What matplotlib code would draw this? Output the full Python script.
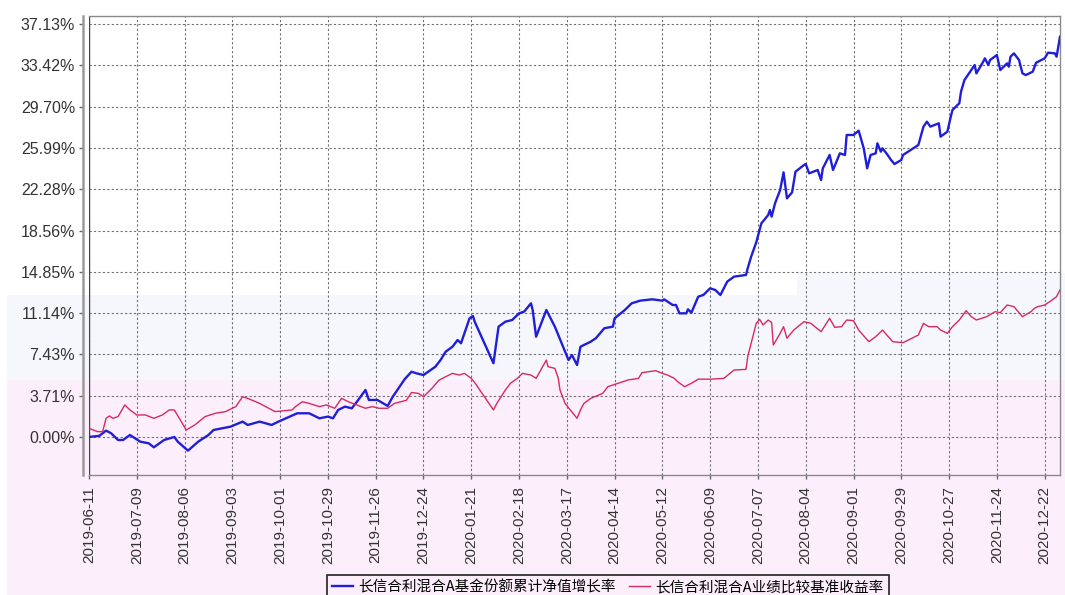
import matplotlib
matplotlib.use("Agg")
import matplotlib.pyplot as plt
import matplotlib.dates as mdates
from matplotlib.patches import Rectangle
import pandas as pd

# ---------------------------------------------------------------------------
# Data (cumulative growth, %)
# ---------------------------------------------------------------------------

fund_dates = [
    "2019-06-11", "2019-06-17", "2019-06-21", "2019-06-24", "2019-06-28", "2019-07-01",
    "2019-07-05", "2019-07-11", "2019-07-16", "2019-07-19", "2019-07-25", "2019-07-31",
    "2019-08-02", "2019-08-08", "2019-08-14", "2019-08-20", "2019-08-23", "2019-08-28",
    "2019-09-02", "2019-09-09", "2019-09-12", "2019-09-19", "2019-09-26", "2019-09-30",
    "2019-10-11", "2019-10-18", "2019-10-24", "2019-10-29", "2019-11-01", "2019-11-04",
    "2019-11-08", "2019-11-12", "2019-11-15", "2019-11-20", "2019-11-22", "2019-11-27",
    "2019-12-03", "2019-12-06", "2019-12-13", "2019-12-17", "2019-12-20", "2019-12-24",
    "2019-12-31", "2020-01-03", "2020-01-06", "2020-01-10", "2020-01-13", "2020-01-15",
    "2020-01-17", "2020-01-20", "2020-01-22", "2020-01-23", "2020-02-03", "2020-02-06",
    "2020-02-10", "2020-02-14", "2020-02-18", "2020-02-21", "2020-02-25", "2020-02-26",
    "2020-02-28", "2020-03-05", "2020-03-10", "2020-03-18", "2020-03-20", "2020-03-23",
    "2020-03-25", "2020-03-31", "2020-04-03", "2020-04-08", "2020-04-13", "2020-04-14",
    "2020-04-20", "2020-04-24", "2020-04-29", "2020-05-06", "2020-05-12", "2020-05-13",
    "2020-05-18", "2020-05-20", "2020-05-22", "2020-05-26", "2020-05-27", "2020-05-29",
    "2020-06-02", "2020-06-05", "2020-06-09", "2020-06-12", "2020-06-15", "2020-06-19",
    "2020-06-23", "2020-06-30", "2020-07-01", "2020-07-03", "2020-07-06", "2020-07-09",
    "2020-07-13", "2020-07-14", "2020-07-15", "2020-07-17", "2020-07-20", "2020-07-22",
    "2020-07-24", "2020-07-27", "2020-07-29", "2020-08-03", "2020-08-04", "2020-08-06",
    "2020-08-11", "2020-08-13", "2020-08-14", "2020-08-18", "2020-08-20", "2020-08-24",
    "2020-08-27", "2020-08-28", "2020-09-01", "2020-09-04", "2020-09-07", "2020-09-09",
    "2020-09-11", "2020-09-14", "2020-09-15", "2020-09-17", "2020-09-18", "2020-09-21",
    "2020-09-23", "2020-09-25", "2020-09-29", "2020-09-30", "2020-10-09", "2020-10-12",
    "2020-10-14", "2020-10-16", "2020-10-21", "2020-10-22", "2020-10-26", "2020-10-28",
    "2020-10-29", "2020-11-02", "2020-11-03", "2020-11-05", "2020-11-09", "2020-11-11",
    "2020-11-12", "2020-11-16", "2020-11-17", "2020-11-19", "2020-11-20", "2020-11-24",
    "2020-11-26", "2020-11-30", "2020-12-01", "2020-12-02", "2020-12-04", "2020-12-07",
    "2020-12-09", "2020-12-11", "2020-12-15", "2020-12-17", "2020-12-22", "2020-12-24",
    "2020-12-28", "2020-12-29", "2020-12-31",
]
fund_vals = [
    0.00, 0.10, 0.57, 0.33, -0.27, -0.27,
    0.18, -0.42, -0.57, -0.93, -0.27, 0.00,
    -0.42, -1.23, -0.42, 0.18, 0.63, 0.78,
    0.93, 1.38, 1.08, 1.38, 1.08, 1.38,
    2.13, 2.13, 1.68, 1.83, 1.68, 2.43,
    2.73, 2.58, 3.17, 4.23, 3.33, 3.33,
    2.79, 3.62, 5.20, 5.87, 5.72, 5.57,
    6.32, 6.92, 7.67, 8.12, 8.72, 8.43,
    9.33, 10.67, 10.88, 10.37, 6.63, 9.92,
    10.37, 10.52, 11.12, 11.27, 12.02, 11.42,
    9.02, 11.42, 9.92, 6.92, 7.37, 6.47,
    8.12, 8.57, 8.88, 9.78, 9.92, 10.67,
    11.42, 12.02, 12.26, 12.38, 12.26, 12.38,
    11.87, 11.87, 11.12, 11.12, 11.48, 11.18,
    12.62, 12.77, 13.37, 13.22, 12.77, 13.97,
    14.42, 14.57, 15.17, 16.21, 17.50, 19.21,
    19.96, 20.41, 19.81, 21.01, 22.21, 23.80,
    21.46, 22.00, 23.86, 24.46, 24.55, 23.71,
    24.01, 23.11, 24.16, 25.36, 24.01, 25.51,
    25.36, 27.16, 27.16, 27.55, 25.96, 24.16,
    25.36, 25.51, 26.41, 25.66, 25.96, 25.36,
    24.91, 24.55, 24.91, 25.36, 26.26, 27.91,
    28.36, 27.91, 28.21, 27.01, 27.46, 28.81,
    29.41, 30.01, 31.06, 32.10, 33.00, 33.45,
    32.70, 33.75, 34.05, 33.45, 33.90, 34.35,
    33.00, 33.60, 33.30, 34.20, 34.50, 33.90,
    32.70, 32.55, 32.85, 33.66, 34.05, 34.56,
    34.50, 34.20, 36.00,
]

bench_dates = [
    "2019-06-11", "2019-06-16", "2019-06-19", "2019-06-21", "2019-06-23", "2019-06-25",
    "2019-06-28", "2019-07-02", "2019-07-05", "2019-07-09", "2019-07-14", "2019-07-19",
    "2019-07-24", "2019-07-28", "2019-07-31", "2019-08-07", "2019-08-12", "2019-08-18",
    "2019-08-24", "2019-08-30", "2019-09-05", "2019-09-09", "2019-09-12", "2019-09-19",
    "2019-09-28", "2019-10-08", "2019-10-10", "2019-10-14", "2019-10-18", "2019-10-24",
    "2019-10-28", "2019-11-02", "2019-11-06", "2019-11-10", "2019-11-15", "2019-11-20",
    "2019-11-24", "2019-11-28", "2019-12-03", "2019-12-07", "2019-12-14", "2019-12-17",
    "2019-12-21", "2019-12-24", "2019-12-29", "2020-01-02", "2020-01-06", "2020-01-10",
    "2020-01-14", "2020-01-17", "2020-01-21", "2020-01-23", "2020-02-03", "2020-02-05",
    "2020-02-10", "2020-02-13", "2020-02-17", "2020-02-20", "2020-02-25", "2020-02-28",
    "2020-03-05", "2020-03-06", "2020-03-10", "2020-03-12", "2020-03-13", "2020-03-16",
    "2020-03-19", "2020-03-23", "2020-03-25", "2020-03-27", "2020-03-31", "2020-04-07",
    "2020-04-10", "2020-04-16", "2020-04-22", "2020-04-28", "2020-04-30", "2020-05-08",
    "2020-05-12", "2020-05-15", "2020-05-19", "2020-05-21", "2020-05-25", "2020-05-29",
    "2020-06-02", "2020-06-09", "2020-06-17", "2020-06-23", "2020-06-30", "2020-07-01",
    "2020-07-03", "2020-07-06", "2020-07-08", "2020-07-10", "2020-07-13", "2020-07-15",
    "2020-07-16", "2020-07-20", "2020-07-22", "2020-07-24", "2020-07-28", "2020-08-03",
    "2020-08-07", "2020-08-13", "2020-08-18", "2020-08-21", "2020-08-25", "2020-08-28",
    "2020-09-01", "2020-09-04", "2020-09-10", "2020-09-14", "2020-09-18", "2020-09-21",
    "2020-09-24", "2020-09-30", "2020-10-09", "2020-10-12", "2020-10-15", "2020-10-20",
    "2020-10-22", "2020-10-26", "2020-10-29", "2020-11-02", "2020-11-06", "2020-11-09",
    "2020-11-12", "2020-11-18", "2020-11-23", "2020-11-26", "2020-11-30", "2020-12-04",
    "2020-12-09", "2020-12-14", "2020-12-16", "2020-12-18", "2020-12-22", "2020-12-25",
    "2020-12-29", "2020-12-31",
]
bench_vals = [
    0.78, 0.48, 0.48, 1.68, 1.89, 1.68,
    1.83, 2.88, 2.43, 1.98, 1.98, 1.68,
    1.98, 2.43, 2.43, 0.63, 1.08, 1.83,
    2.13, 2.28, 2.73, 3.62, 3.47, 3.02,
    2.28, 2.43, 2.73, 3.17, 3.02, 2.73,
    2.88, 2.58, 3.47, 3.17, 2.88, 2.58,
    2.73, 2.58, 2.58, 3.02, 3.30, 4.00,
    3.92, 3.62, 4.38, 5.10, 5.42, 5.72,
    5.57, 5.72, 5.27, 4.90, 2.43, 3.02,
    4.23, 4.83, 5.27, 5.72, 5.57, 5.27,
    6.92, 6.32, 6.17, 5.27, 4.23, 3.02,
    2.43, 1.68, 2.43, 3.02, 3.47, 3.92,
    4.52, 4.83, 5.13, 5.27, 5.78, 5.96,
    5.72, 5.57, 5.27, 4.97, 4.52, 4.83,
    5.20, 5.20, 5.27, 6.02, 6.08, 7.22,
    8.43, 10.22, 10.58, 10.07, 10.52, 10.30,
    8.27, 9.32, 9.92, 8.88, 9.62, 10.37,
    10.22, 9.47, 10.67, 9.86, 9.92, 10.52,
    10.46, 9.62, 8.57, 9.02, 9.62, 9.08,
    8.57, 8.48, 9.17, 10.22, 9.92, 9.92,
    9.62, 9.32, 9.92, 10.52, 11.36, 10.82,
    10.52, 10.82, 11.27, 11.18, 11.87, 11.72,
    10.82, 11.27, 11.57, 11.72, 11.87, 12.17,
    12.62, 13.22,
]

series_names = ["长信合利混合A基金份额累计净值增长率", "长信合利混合A业绩比较基准收益率"]

y_ticks = [0.0, 3.713, 7.426, 11.139, 14.852, 18.565, 22.278, 25.991, 29.704, 33.417, 37.13]
y_labels = ["0.00%", "3.71%", "7.43%", "11.14%", "14.85%", "18.56%",
            "22.28%", "25.99%", "29.70%", "33.42%", "37.13%"]

x_tick_dates = [
    "2019-06-11", "2019-07-09", "2019-08-06", "2019-09-03", "2019-10-01", "2019-10-29",
    "2019-11-26", "2019-12-24", "2020-01-21", "2020-02-18", "2020-03-17", "2020-04-14",
    "2020-05-12", "2020-06-09", "2020-07-07", "2020-08-04", "2020-09-01", "2020-09-29",
    "2020-10-27", "2020-11-24", "2020-12-22",
]

# ---------------------------------------------------------------------------
# Figure
# ---------------------------------------------------------------------------

plt.rcParams["font.family"] = ["Liberation Sans", "DejaVu Sans"]

W, H = 1065, 595
fig = plt.figure(figsize=(W / 100, H / 100), dpi=100)
fig.patch.set_facecolor("white")


def band(x0, y0, x1, y1, color):
    # background tint, given in pixel coords from the top-left corner
    fig.add_artist(Rectangle((x0 / W, 1 - y1 / H), (x1 - x0) / W, (y1 - y0) / H,
                             transform=fig.transFigure, facecolor=color,
                             edgecolor="none", zorder=-10))


band(7, 295, W, 380, "#f6f6fd")
band(797, 273, W, 295, "#f6f6fd")
band(7, 380, W, H, "#fdeefb")

ax = fig.add_axes([89 / W, 1 - 475 / H, (1060 - 89) / W, (475 - 16) / H])
ax.patch.set_visible(False)

fund_x = pd.to_datetime(fund_dates)
bench_x = pd.to_datetime(bench_dates)

ax.plot(fund_x, fund_vals, color="#1f1fd8", linewidth=1.7, label=series_names[0], zorder=3)
ax.plot(bench_x, bench_vals, color="#d72a5e", linewidth=1.0, label=series_names[1], zorder=3)

ax.set_xlim(pd.Timestamp("2019-06-11"), pd.Timestamp("2020-12-31"))
ax.set_ylim(-3.42, 37.86)

ax.set_yticks(y_ticks)
ax.set_yticklabels(y_labels)
ax.set_xticks(pd.to_datetime(x_tick_dates))
ax.xaxis.set_major_formatter(mdates.DateFormatter("%Y-%m-%d"))

ax.grid(True, color="#707070", linestyle=(0, (2, 2)), linewidth=0.8, zorder=1)

for side in ["top", "right", "bottom"]:
    ax.spines[side].set_color("#8a8a8a")
    ax.spines[side].set_linewidth(1.0)
ax.spines["left"].set_position(("outward", 4))
ax.spines["left"].set_color("#9a9a9a")
ax.spines["left"].set_linewidth(1.8)
ax.axvline(pd.Timestamp("2019-06-11"), color="#444444", linewidth=1.0, zorder=2)

ax.tick_params(axis="y", direction="out", length=3, width=1, color="#666666",
               pad=3, labelsize=11.5, labelcolor="#333333")
ax.tick_params(axis="x", direction="out", length=3, width=1, color="#666666",
               pad=5, labelsize=11, labelcolor="#333333", labelrotation=90)

fig.legend(loc="upper center", bbox_to_anchor=(608 / W, 1 - 575 / H), ncol=2,
           frameon=True, fancybox=False, edgecolor="#333333", facecolor="#fdeefb",
           framealpha=1.0, handlelength=1.4, handletextpad=0.4, columnspacing=0.9,
           borderpad=0.35, borderaxespad=0,
           prop={"family": ["Noto Sans CJK SC", "DejaVu Sans"], "size": 10.5})
fig.legends[0].get_frame().set_linewidth(1.3)

fig.savefig("out.png", dpi=100)
